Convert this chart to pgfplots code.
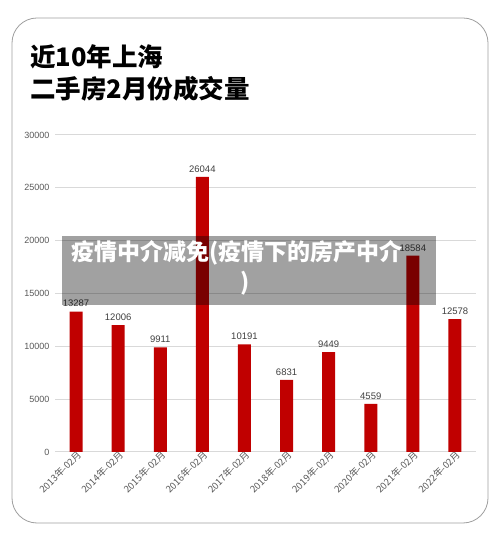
\documentclass[border=0pt]{standalone}
\usepackage{pgfplots}
\pgfplotsset{compat=1.18}
\usepackage{fontspec}
\setmainfont{Liberation Sans}
\newfontfamily\cjk{Noto Sans CJK SC}
\definecolor{barred}{HTML}{C00000}
\definecolor{ticktext}{HTML}{595959}
\definecolor{valtext}{HTML}{404040}
\definecolor{gridgray}{HTML}{D9D9D9}

\begin{document}
\begin{tikzpicture}[x=1pt,y=1pt]
\useasboundingbox (0,0) rectangle (500,541);
\fill[white] (0,0) rectangle (500,541);
\draw[gray!75, line width=0.8pt, rounded corners=25pt] (12,523) rectangle (488,18);

% title
\node[anchor=west, inner sep=0pt, font=\cjk\bfseries\fontsize{25.5}{30}\selectfont] at (30,484) {近10年上海};
\node[anchor=west, inner sep=0pt, font=\cjk\bfseries\fontsize{25.5}{30}\selectfont] at (30,452) {二手房2月份成交量};

\begin{axis}[
    at={(55pt,89pt)}, anchor=south west,
    scale only axis,
    width=421pt, height=317pt,
    xmin=-0.5, xmax=9.5,
    ymin=0, ymax=30000,
    axis line style={draw=none},
    ymajorgrids=true,
    grid style={line width=1pt, draw=gridgray},
    ytick={0,5000,10000,15000,20000,25000,30000},
    xtick={0,...,9},
    xticklabels={2013年-02月,2014年-02月,2015年-02月,2016年-02月,2017年-02月,2018年-02月,2019年-02月,2020年-02月,2021年-02月,2022年-02月},
    major tick length=0pt,
    scaled y ticks=false,
    /pgf/number format/assume math mode=true,
    /pgf/number format/1000 sep={},
    yticklabel style={font=\fontsize{9}{10}\selectfont, text=ticktext, anchor=east, xshift=-2pt},
    xticklabel style={font=\cjk\fontsize{9.5}{10}\selectfont, text=ticktext, rotate=45, anchor=east, xshift=5pt, yshift=-3pt},
    clip=false,
]
\addplot[ybar, bar width=13pt, fill=barred, draw=none,
    nodes near coords,
    every node near coord/.append style={font=\fontsize{9.5}{11}\selectfont, text=valtext, yshift=1pt},
    ] coordinates {
    (0,13287)
    (1,12006)
    (2,9911)
    (3,26044)
    (4,10191)
    (5,6831)
    (6,9449)
    (7,4559)
    (8,18584)
    (9,12578)
};
\end{axis}

% overlay banner
\fill[black, opacity=0.37] (62,305) rectangle (436,236);
\node[anchor=west, inner sep=0pt, text=white, font=\cjk\bfseries\fontsize{23}{26}\selectfont] at (71,288) {疫情中介减免(疫情下的房产中介};
\node[inner sep=0pt, text=white, font=\cjk\bfseries\fontsize{23}{26}\selectfont] at (245,258) {)};
\end{tikzpicture}
\end{document}
